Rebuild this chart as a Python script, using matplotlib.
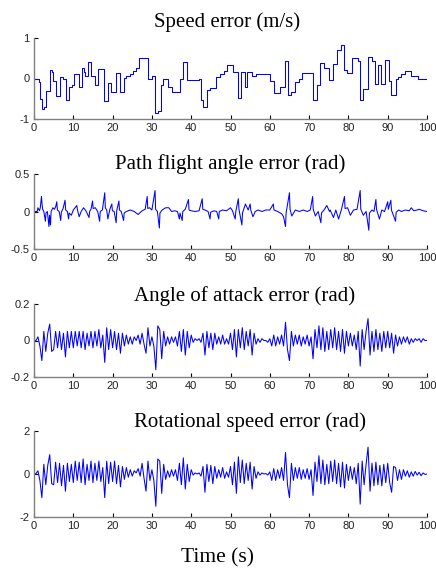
import numpy as np
import matplotlib
matplotlib.use("Agg")
import matplotlib.pyplot as plt

plt.rcParams['axes.unicode_minus'] = False

# speed error: step levels (time where the level starts, value)
speed = [(0.0, 0.0), (1.2, -0.09), (1.6, -0.5), (2.1, -0.75), (2.6, -0.7), (3.1, -0.32),
         (4.1, 0.21), (4.6, 0.17), (4.9, -0.06), (5.5, -0.42), (6.5, 0.03), (7.3, 0.0),
         (8.2, -0.53), (9.0, -0.2), (9.6, -0.17), (10.1, 0.12), (10.9, 0.1), (11.4, -0.2),
         (12.1, 0.27), (12.7, 0.17), (12.9, 0.07), (13.7, 0.4), (14.4, 0.07), (15.5, -0.15),
         (16.4, 0.23), (17.9, -0.55), (18.9, -0.1), (19.7, -0.33), (20.9, 0.14), (21.9, -0.33),
         (22.8, 0.02), (23.5, 0.07), (24.4, 0.12), (25.1, 0.18), (25.9, 0.26), (26.6, 0.5),
         (28.9, -0.01), (30.0, 0.07), (30.9, -0.86), (31.6, -0.8), (32.2, -0.16), (32.8, 0.0),
         (34.0, -0.2), (35.0, -0.33), (37.2, 0.0), (37.9, 0.4), (38.9, -0.04), (42.0, -0.02),
         (42.4, -0.53), (43.1, -0.7), (44.1, -0.28), (44.8, -0.23), (46.4, 0.03), (47.3, 0.1),
         (48.3, 0.18), (49.2, 0.33), (50.6, 0.15), (51.8, -0.49), (52.6, 0.15), (53.6, -0.2),
         (54.3, 0.15), (55.5, 0.07), (56.4, 0.12), (60.0, -0.06), (61.0, -0.35), (62.6, -0.2),
         (63.9, 0.44), (64.6, -0.41), (65.4, -0.33), (66.4, -0.08), (67.5, 0.0), (68.3, 0.13),
         (70.9, -0.52), (71.9, -0.15), (72.9, 0.38), (73.8, 0.25), (75.1, -0.04), (76.1, 0.37),
         (77.0, 0.7), (78.0, 0.83), (78.8, 0.2), (79.7, 0.14), (81.0, 0.5), (82.5, 0.44),
         (83.0, -0.52), (83.8, -0.25), (84.9, 0.54), (86.0, 0.44), (86.8, -0.13), (87.5, 0.33),
         (88.2, -0.13), (89.3, 0.45), (90.3, -0.05), (90.9, -0.4), (92.0, 0.0), (92.5, 0.03),
         (93.4, 0.12), (94.3, 0.18), (96.0, 0.06), (97.7, 0.0), (100.0, 0.0)]

# path flight angle error (rad): (time, value)
path = [(0, 0.0), (0.8, 0.0), (1.0, 0.05), (1.4, 0.01), (1.6, 0.05), (1.9, 0.2), (2.05, 0.1),
        (2.2, 0.03), (2.5, 0.0), (2.9, -0.13), (3.05, -0.02), (3.4, 0.0), (3.8, -0.2),
        (3.95, -0.05), (4.2, -0.18), (4.35, 0.0), (4.8, 0.05), (5.2, 0.03), (5.5, 0.06),
        (5.8, 0.13), (5.95, 0.02), (6.4, 0.0), (6.8, -0.12), (6.95, -0.01), (7.4, 0.04),
        (7.9, 0.15), (8.05, 0.02), (8.5, 0.0), (8.8, -0.1), (8.95, -0.02), (9.5, -0.05),
        (10.0, 0.02), (10.9, 0.08), (11.05, 0.02), (11.5, -0.07), (12.0, 0.0), (12.6, 0.05),
        (13.2, 0.01), (14.0, -0.08), (14.15, 0.0), (14.5, 0.03), (14.9, 0.14), (15.05, 0.04),
        (15.6, 0.05), (16.2, 0.0), (16.7, -0.13), (16.85, 0.0), (17.4, 0.02), (18.0, 0.25),
        (18.15, 0.05), (18.5, 0.02), (18.8, -0.1), (19.3, 0.03), (19.8, 0.1), (19.95, 0.01),
        (20.4, 0.0), (20.9, -0.15), (21.05, 0.01), (21.6, 0.14), (21.75, 0.02), (22.2, 0.0),
        (22.8, -0.12), (22.95, -0.02), (23.5, 0.0), (24.5, 0.02), (25.5, 0.0), (26.5, -0.04),
        (27.5, 0.01), (28.3, 0.03), (28.8, 0.2), (28.95, 0.04), (29.4, 0.05), (30.0, 0.02),
        (30.8, 0.28), (30.95, 0.03), (31.4, 0.0), (31.9, -0.22), (32.05, -0.02), (32.6, 0.02),
        (33.5, 0.05), (34.3, 0.05), (35.0, 0.0), (35.8, 0.01), (36.5, 0.0), (37.0, -0.1),
        (37.15, -0.02), (37.7, -0.12), (37.85, 0.0), (38.5, 0.03), (39.3, 0.16), (39.45, 0.02),
        (40.0, 0.01), (41.0, 0.0), (42.0, 0.01), (42.8, 0.17), (42.95, 0.03), (43.5, 0.02),
        (44.3, 0.0), (44.8, -0.1), (44.95, -0.01), (45.8, 0.01), (46.5, 0.0), (47.0, -0.1),
        (47.15, 0.0), (48.0, 0.02), (49.0, 0.01), (50.0, 0.05), (50.5, 0.01), (51.2, -0.1),
        (51.35, 0.0), (52.0, 0.17), (52.15, 0.03), (52.9, -0.18), (53.05, -0.02), (53.8, 0.1),
        (54.5, 0.02), (55.0, 0.1), (55.15, 0.02), (55.7, -0.07), (56.3, 0.0), (57.0, 0.02),
        (58.0, 0.0), (59.0, 0.02), (60.0, 0.02), (60.9, 0.1), (61.05, 0.02), (62.0, 0.0),
        (63.0, -0.03), (63.5, -0.07), (64.0, -0.2), (64.15, -0.02), (65.0, 0.25), (65.15, 0.03),
        (65.6, -0.06), (66.5, 0.02), (67.5, 0.0), (68.5, 0.02), (69.5, 0.0), (70.3, 0.02),
        (70.9, 0.2), (71.05, 0.03), (71.6, -0.06), (72.3, 0.0), (73.0, -0.15), (73.15, -0.02),
        (73.8, 0.02), (74.5, 0.08), (75.2, 0.0), (75.35, 0.02), (76.2, -0.08), (76.8, 0.02),
        (77.5, -0.1), (78.2, 0.02), (79.0, 0.2), (79.15, 0.04), (79.8, 0.05), (80.5, -0.05),
        (81.3, 0.02), (82.2, 0.03), (83.0, 0.28), (83.15, 0.03), (83.8, -0.05), (84.5, 0.0),
        (85.2, -0.25), (85.35, -0.02), (86.0, 0.02), (86.5, 0.0), (87.0, 0.16), (87.15, 0.03),
        (87.9, -0.1), (88.5, 0.02), (89.2, 0.0), (90.0, 0.13), (90.15, 0.03), (90.8, 0.15),
        (90.95, 0.02), (92.0, -0.13), (92.15, -0.01), (92.8, 0.02), (93.5, 0.0), (94.5, 0.02),
        (95.5, 0.01), (96.0, 0.05), (96.6, 0.01), (97.5, 0.02), (98.0, 0.03), (99.0, 0.01),
        (100, 0.0)]

# angle of attack error (rad), one value every 0.5 s
aoa_t = np.arange(0, 100.01, 0.5)
aoa = [0.0, 0.0, 0.02, -0.03, -0.11, 0.05, -0.06, 0.04, 0.09, -0.06,
       -0.05, 0.05, -0.04, 0.05, -0.05, 0.04, -0.09, 0.05, -0.04, 0.05,
       -0.04, 0.05, -0.03, 0.05, -0.04, 0.05, -0.05, 0.04, -0.03, 0.05,
       -0.04, 0.05, -0.03, 0.06, -0.04, 0.03, -0.12, 0.07, -0.05, 0.06,
       -0.04, 0.05, -0.05, 0.04, -0.07, 0.04, -0.03, 0.03, -0.02, 0.02,
       -0.02, 0.02, 0.0, 0.03, -0.02, 0.04, -0.02, -0.07, 0.07, -0.03,
       0.02, -0.03, -0.16, 0.08, 0.06, -0.1, 0.05, -0.03, 0.02, -0.02,
       0.02, -0.01, 0.02, -0.03, 0.05, -0.06, 0.06, -0.08, 0.05, -0.04,
       0.03, -0.01, 0.01, 0.0, 0.01, -0.01, 0.04, -0.08, 0.05, -0.04,
       0.04, -0.05, 0.04, -0.02, 0.02, -0.02, 0.03, -0.02, 0.01, -0.02,
       0.04, -0.05, 0.06, -0.09, 0.06, -0.04, 0.07, -0.05, 0.05, -0.03,
       0.06, -0.08, 0.04, -0.02, 0.01, -0.01, 0.01, 0.0, 0.0, -0.01,
       0.01, -0.03, 0.03, -0.03, 0.02, -0.02, 0.03, -0.03, 0.1, -0.05,
       -0.11, 0.05, -0.03, 0.03, -0.02, 0.03, -0.03, 0.02, -0.02, 0.03,
       -0.03, 0.02, -0.1, 0.06, -0.04, 0.08, -0.05, 0.07, -0.06, 0.05,
       -0.05, 0.06, -0.04, 0.07, -0.05, 0.05, -0.06, 0.06, -0.07, 0.05,
       -0.03, 0.04, -0.03, 0.03, -0.05, 0.05, -0.14, 0.06, -0.05, 0.05,
       0.12, -0.08, 0.05, -0.06, 0.06, -0.05, 0.04, -0.06, 0.05, -0.04,
       0.05, -0.04, 0.04, -0.07, 0.03, -0.03, 0.02, -0.02, 0.02, -0.01,
       0.02, -0.02, 0.01, -0.01, 0.01, 0.0, 0.01, -0.01, 0.01, 0.0,
       0.0]

# rotational speed error (rad), one value every 0.5 s
rot = [0.0, 0.02, 0.15, -0.3, -1.1, 0.45, -0.5, 0.4, 0.9, -0.45,
       -0.5, 0.55, -0.4, 0.5, -0.55, 0.4, -0.8, 0.5, -0.35, 0.45,
       -0.4, 0.6, -0.3, 0.55, -0.4, 0.7, -0.5, 0.45, -0.3, 0.6,
       -0.4, 0.5, -0.3, 0.6, -0.35, 0.3, -1.1, 0.6, -0.45, 0.55,
       -0.35, 0.6, -0.45, 0.4, -0.6, 0.35, -0.25, 0.3, -0.15, 0.2,
       -0.1, 0.15, 0.05, 0.25, -0.1, 0.5, -0.2, -0.8, 0.6, -0.3,
       0.2, -0.3, -1.5, 0.7, 0.6, -0.9, 0.45, -0.25, 0.15, -0.15,
       0.2, -0.1, 0.2, -0.3, 0.5, -0.5, 0.75, -0.7, 0.45, -0.35,
       0.2, -0.05, 0.05, 0.0, 0.05, -0.1, 0.35, -0.85, 0.45, -0.35,
       0.4, -0.45, 0.35, -0.2, 0.2, -0.15, 0.3, -0.2, 0.1, -0.15,
       0.35, -0.5, 0.55, -0.9, 0.8, -0.4, 0.65, -0.45, 0.5, -0.3,
       0.55, -0.7, 0.35, -0.2, 0.1, -0.05, 0.05, 0.0, 0.02, -0.05,
       0.1, -0.3, 0.25, -0.3, 0.2, -0.2, 0.3, -0.3, 1.0, -0.5,
       -1.1, 0.5, -0.3, 0.3, -0.2, 0.3, -0.25, 0.2, -0.2, 0.25,
       -0.25, 0.2, -1.0, 0.55, -0.35, 0.85, -0.45, 0.65, -0.5, 0.45,
       -0.45, 0.6, -0.35, 0.65, -0.45, 0.5, -0.6, 0.55, -0.65, 0.45,
       -0.3, 0.35, -0.25, 0.3, -0.45, 0.5, -1.4, 0.6, -0.5, 0.45,
       1.25, -0.8, 0.5, -0.55, 0.55, -0.5, 0.4, -0.55, 0.45, -0.4,
       0.5, -0.4, -0.85, 0.35, 0.3, -0.3, 0.2, -0.25, 0.2, -0.1,
       0.15, -0.15, 0.1, -0.1, 0.12, -0.05, 0.08, -0.08, 0.05, -0.02,
       0.0]

titles = ["Speed error (m/s)", "Path flight angle error (rad)",
          "Angle of attack error (rad)", "Rotational speed error (rad)"]
ylims = [1, 0.5, 0.2, 2]
ytick_labels = [["-1", "0", "1"], ["-0.5", "0", "0.5"], ["-0.2", "0", "0.2"], ["-2", "0", "2"]]
xticks = list(range(0, 101, 10))

W, H = 436, 569
fig = plt.figure(figsize=(W / 100, H / 100), dpi=100)

# pixel boxes (top, bottom) of each panel, and title position (x centre, baseline)
boxes = [(38, 119), (174, 249), (304, 377), (431, 517)]
title_pos = [(227, 27), (230, 169), (245, 301), (250, 427)]
left, right = 34, 427

series = [(np.array([p[0] for p in speed]), np.array([p[1] for p in speed]), 'steps-post'),
          (np.array([p[0] for p in path]), np.array([p[1] for p in path]), 'default'),
          (aoa_t, np.array(aoa), 'default'),
          (aoa_t, np.array(rot), 'default')]

for i, (top, bot) in enumerate(boxes):
    ax = fig.add_axes([left / W, 1 - bot / H, (right - left) / W, (bot - top) / H])
    t, v, ds = series[i]
    ax.plot(t, v, color='#0000ff', lw=0.75, drawstyle=ds)
    ax.set_xlim(0, 100)
    ax.set_ylim(-ylims[i], ylims[i])
    ax.set_xticks(xticks)
    ax.set_yticks([-ylims[i], 0, ylims[i]])
    ax.set_yticklabels(ytick_labels[i])
    ax.spines['top'].set_visible(False)
    ax.spines['right'].set_visible(False)
    for s in ['left', 'bottom']:
        ax.spines[s].set_color('#808080')
        ax.spines[s].set_linewidth(1.0)
    ax.tick_params(direction='in', length=3, width=0.8, color='black',
                   labelsize=8, pad=3, labelcolor='#222222')
    for lab in ax.get_xticklabels() + ax.get_yticklabels():
        lab.set_family('Liberation Sans')
    fig.text(title_pos[i][0] / W, 1 - title_pos[i][1] / H, titles[i],
             ha='center', va='baseline', family='Liberation Serif', fontsize=15)

fig.text(217 / W, 1 - 562 / H, "Time (s)", ha='center', va='baseline',
         family='Liberation Serif', fontsize=15.5)

fig.savefig("out.png", dpi=100)
